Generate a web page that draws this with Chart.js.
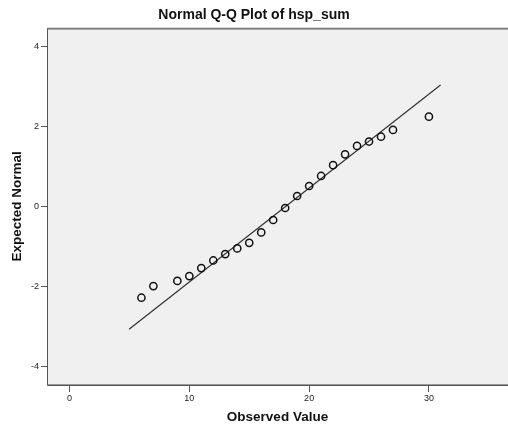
<!DOCTYPE html>
<html>
<head>
<meta charset="utf-8">
<script src="https://cdn.jsdelivr.net/npm/chart.js@4"></script>
<style>
html,body{margin:0;padding:0;background:#fff;}
#wrap{width:508px;height:427px;}
</style>
</head>
<body>
<div id="wrap"><canvas id="c" width="508" height="427"></canvas></div>
<script>
const observedValues = [6, 7, 9, 10, 11, 12, 13, 14, 15, 16, 17, 18, 19, 20, 21, 22, 23, 24, 25, 26, 27, 30];
const expectedNormal = [-2.27, -1.98, -1.85, -1.73, -1.53, -1.34, -1.18, -1.04, -0.90, -0.64, -0.33, -0.03, 0.27, 0.52, 0.77, 1.04, 1.31, 1.52, 1.63, 1.75, 1.92, 2.25];
const refLineX = [4.97, 30.97];
const refLineY = [-3.06, 3.04];
const xTicks = [0, 10, 20, 30];
const yTicks = [-4, -2, 0, 2, 4];

const plotBg = {
  id: 'plotBg',
  beforeDraw(chart) {
    const {ctx, chartArea: a} = chart;
    ctx.save();
    ctx.fillStyle = '#f0f0f0';
    ctx.fillRect(a.left, a.top, a.right - a.left + 4, a.bottom - a.top);
    ctx.restore();
  },
  afterDatasetsDraw(chart) {
    const {ctx, chartArea: a} = chart;
    ctx.save();
    ctx.strokeStyle = '#555';
    ctx.lineWidth = 1;
    ctx.beginPath();
    ctx.moveTo(a.right + 4, a.top + 0.5);
    ctx.lineTo(a.left + 0.5, a.top + 0.5);
    ctx.lineTo(a.left + 0.5, a.bottom + 0.5);
    ctx.lineTo(a.right + 4, a.bottom + 0.5);
    ctx.stroke();
    ctx.strokeStyle = '#999';
    ctx.beginPath();
    ctx.moveTo(a.left + 1, a.top + 1.5);
    ctx.lineTo(a.right + 4, a.top + 1.5);
    ctx.moveTo(a.left + 1, a.bottom - 0.5);
    ctx.lineTo(a.right + 4, a.bottom - 0.5);
    ctx.stroke();
    ctx.restore();
  }
};

new Chart(document.getElementById('c'), {
  type: 'scatter',
  data: {
    datasets: [
      {
        label: 'Reference',
        type: 'line',
        data: refLineX.map((x, i) => ({x, y: refLineY[i]})),
        borderColor: '#333',
        borderWidth: 1.2,
        pointRadius: 0,
        fill: false,
        order: 2
      },
      {
        label: 'hsp_sum',
        data: observedValues.map((x, i) => ({x, y: expectedNormal[i]})),
        backgroundColor: 'rgba(0,0,0,0)',
        borderColor: '#111',
        borderWidth: 1.5,
        pointRadius: 3.6,
        order: 1
      }
    ]
  },
  options: {
    responsive: false,
    animation: false,
    devicePixelRatio: 1,
    layout: {padding: 0, autoPadding: false},
    plugins: {
      legend: {display: false},
      tooltip: {enabled: false},
      title: {
        display: true,
        text: 'Normal Q-Q Plot of hsp_sum',
        color: '#111',
        font: {family: 'Liberation Sans, Arial, sans-serif', size: 14, weight: 'bold'},
        padding: {top: 7, bottom: 4}
      }
    },
    scales: {
      x: {
        type: 'linear',
        min: -1.88,
        max: 36.6,
        afterBuildTicks(s) { s.ticks = xTicks.map(v => ({value: v})); },
        afterFit(s) { s.height = 42; s.paddingLeft = 0; s.paddingRight = 0; },
        grid: {drawOnChartArea: false, tickLength: 7, tickColor: '#555', tickWidth: 1},
        border: {display: false},
        ticks: {color: '#222', font: {family: 'Liberation Sans, Arial, sans-serif', size: 9}, padding: 1, maxRotation: 0},
        title: {
          display: true,
          text: 'Observed Value',
          color: '#111',
          font: {family: 'Liberation Sans, Arial, sans-serif', size: 13.5, weight: 'bold'},
          padding: {top: 0, bottom: 2}
        }
      },
      y: {
        type: 'linear',
        min: -4.45,
        max: 4.47,
        afterBuildTicks(s) { s.ticks = yTicks.map(v => ({value: v})); },
        afterFit(s) { s.width = 47; s.paddingTop = 0; s.paddingBottom = 0; },
        grid: {drawOnChartArea: false, tickLength: 6, tickColor: '#555', tickWidth: 1},
        border: {display: false},
        ticks: {color: '#222', font: {family: 'Liberation Sans, Arial, sans-serif', size: 9}, padding: 2},
        title: {
          display: true,
          text: 'Expected Normal',
          color: '#111',
          font: {family: 'Liberation Sans, Arial, sans-serif', size: 13.5, weight: 'bold'},
          padding: {top: 9, bottom: 0}
        }
      }
    }
  },
  plugins: [plotBg]
});
</script>
</body>
</html>
